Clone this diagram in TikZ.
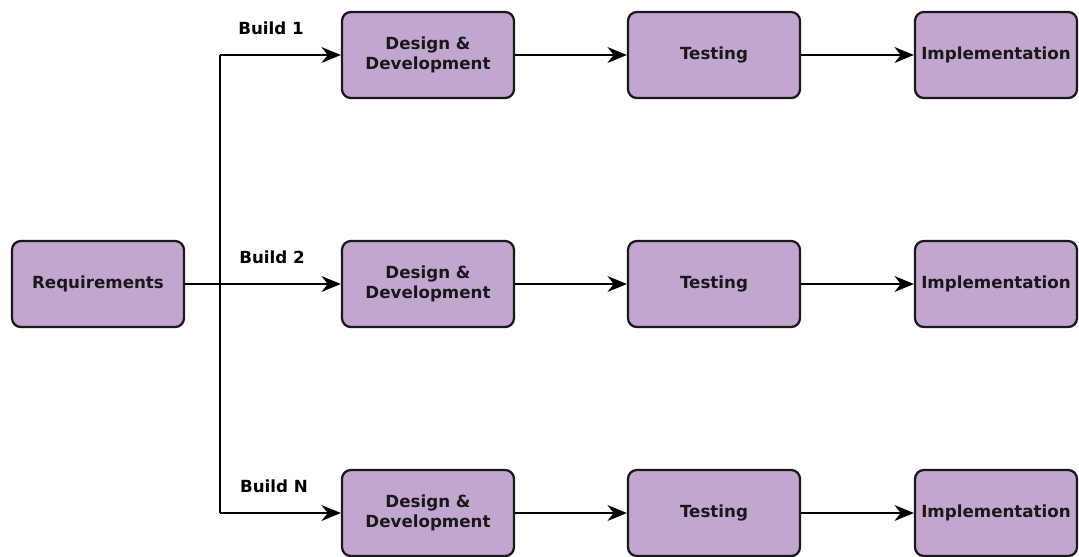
\documentclass[tikz,border=0pt]{standalone}
\usepackage{fontspec}
\setmainfont{DejaVu Sans}
\usetikzlibrary{arrows.meta}
\definecolor{phase}{RGB}{195,166,207}
\begin{document}
\begin{tikzpicture}[x=0.02cm,y=-0.02cm,
    box/.style={draw=black!90,fill=phase,rounded corners=5pt,line width=1.3pt,
      minimum width=3.44cm,minimum height=1.72cm,align=center,
      font=\fontsize{9.5}{11.5}\selectfont\bfseries,text=black!90},
    flow/.style={line width=1.3pt,-{Stealth[length=11pt,width=9pt,inset=3.5pt]}},
    tag/.style={font=\fontsize{9.5}{11}\selectfont\bfseries}]
  \useasboundingbox (0,0) rectangle (1079,556);

  \node[box] (req) at (98,284) {Requirements};

  \begin{scope}[every node/.style={box}]
    \node (dd1)  at (428,55)  {Design \&\\Development};
    \node (dd2)  at (428,284) {Design \&\\Development};
    \node (dd3)  at (428,513) {Design \&\\Development};
    \node (t1)   at (714,55)  {Testing};
    \node (t2)   at (714,284) {Testing};
    \node (t3)   at (714,513) {Testing};
    \node[minimum width=3.24cm] (im1) at (996,55)  {Implementation};
    \node[minimum width=3.24cm] (im2) at (996,284) {Implementation};
    \node[minimum width=3.24cm] (im3) at (996,513) {Implementation};
  \end{scope}

  \coordinate (j1) at (220,55);
  \coordinate (j3) at (220,513);

  \node[tag] (b1) at (271,28)  {Build 1};
  \node[tag] (b2) at (272,257) {Build 2};
  \node[tag] (bn) at (274,486) {Build N};

  \draw[line width=1.3pt] (j1) -- (j3);
  \draw[flow] (j1) -- (dd1);
  \draw[flow] (req) -- (dd2);
  \draw[flow] (j3) -- (dd3);

  \foreach \r in {1,2,3} {
    \draw[flow] (dd\r) -- (t\r);
    \draw[flow] (t\r) -- (im\r);
  }
\end{tikzpicture}
\end{document}
